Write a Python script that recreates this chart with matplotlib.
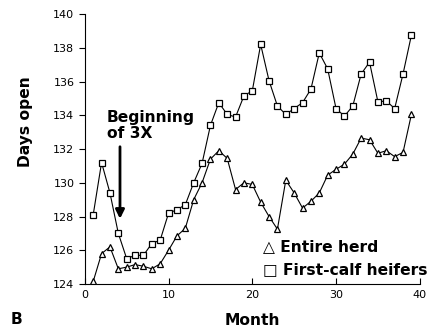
import numpy as np
import matplotlib
matplotlib.use("Agg")
import matplotlib.pyplot as plt

# month index
months = np.arange(1, 40)

# days open, entire herd (triangles)
entire_herd = [124.15, 125.8, 126.2, 124.9, 125.0, 125.15, 125.05, 124.9, 125.2, 126.0,
               126.85, 127.3, 129.0, 130.0, 131.4, 131.9, 131.45, 129.6, 130.0, 129.9,
               128.85, 128.0, 127.25, 130.15, 129.4, 128.5, 128.9, 129.4, 130.45, 130.8,
               131.1, 131.7, 132.65, 132.55, 131.75, 131.9, 131.55, 131.8, 134.05]

# days open, first-calf heifers (squares)
first_calf = [128.1, 131.2, 129.4, 127.0, 125.5, 125.7, 125.7, 126.4, 126.6, 128.2,
              128.4, 128.7, 130.0, 131.15, 133.4, 134.75, 134.05, 133.9, 135.15, 135.45,
              138.2, 136.05, 134.55, 134.05, 134.4, 134.75, 135.55, 137.7, 136.75, 134.4,
              133.95, 134.55, 136.45, 137.15, 134.8, 134.85, 134.4, 136.45, 138.75]

xticks = [0, 10, 20, 30, 40]
yticks = [124, 126, 128, 130, 132, 134, 136, 138, 140]

bold = dict(family=["DejaVu Sans"], fontweight="bold", fontsize=11.2)

fig = plt.figure(figsize=(4.35, 3.32), dpi=100)
ax = fig.add_axes([0.195, 0.1446, 0.770, 0.813])

ax.plot(months, first_calf, color="black", lw=0.8, marker="s", ms=4.6,
        mfc="white", mec="black", mew=0.9, zorder=3)
ax.plot(months, entire_herd, color="black", lw=0.8, marker="^", ms=4.3,
        mfc="white", mec="black", mew=0.9, zorder=3)

ax.set_xlim(0, 40)
ax.set_ylim(124, 140)
ax.set_xticks(xticks)
ax.set_yticks(yticks)
ax.spines["top"].set_visible(False)
ax.spines["right"].set_visible(False)
ax.tick_params(axis="x", direction="in", length=4, labelsize=8, pad=4)
ax.tick_params(axis="y", direction="out", length=4, labelsize=8)
for lab in ax.get_xticklabels() + ax.get_yticklabels():
    lab.set_color("black")

ax.set_xlabel("Month", labelpad=10, **bold)
ax.set_ylabel("Days open", **bold)
ax.yaxis.set_label_coords(-0.155, 0.6)

# arrow marking start of 3X milking
ax.annotate("", xy=(4.2, 127.7), xytext=(4.2, 132.3),
            arrowprops=dict(arrowstyle="-|>", color="black", lw=2, mutation_scale=13))
ax.text(2.6, 133.4, "Beginning\nof 3X", ha="left", va="center", linespacing=1.15, **bold)

# legend as text
ax.text(21.3, 126.2, "\u25b3 Entire herd", ha="left", va="center", **bold)
ax.text(21.3, 124.85, "\u25a1 First-calf heifers", ha="left", va="center", **bold)

fig.text(0.025, 0.025, "B", **bold)

fig.savefig("out.png", dpi=100)
